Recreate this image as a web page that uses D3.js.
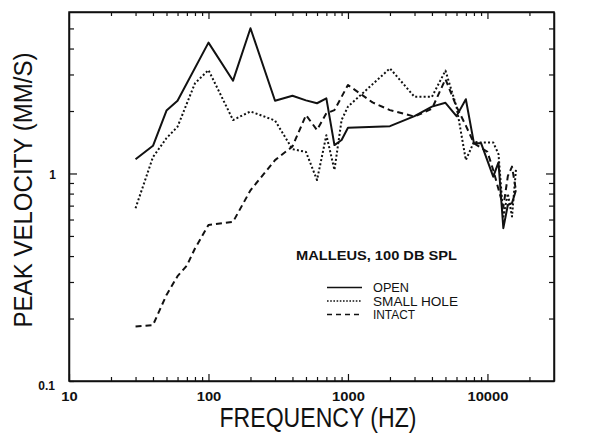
<!DOCTYPE html>
<html>
<head>
<meta charset="utf-8">
<script src="https://cdn.jsdelivr.net/npm/d3@7"></script>
<style>
  body { margin: 0; background: #fff; }
  text { font-family: "Liberation Sans", Arial, sans-serif; fill: #111; }
</style>
</head>
<body>
<div class="graph-pane"></div>
<script>
// values (frequency in Hz, peak velocity in mm/s)
var freqOpen = [30, 40, 50, 60, 100, 150, 200, 300, 400, 500, 600, 700, 800, 900, 1000, 2000, 3000, 4000, 5000, 6000, 7000, 8000, 9000, 11000, 12000, 13000, 14000, 15000, 16000];
var velOpen  = [1.17, 1.36, 2.01, 2.24, 4.27, 2.80, 5.01, 2.24, 2.37, 2.25, 2.18, 2.30, 1.37, 1.45, 1.66, 1.69, 1.89, 2.10, 2.19, 1.89, 2.28, 1.40, 1.40, 0.965, 1.13, 0.545, 0.705, 0.72, 0.83];

var freqHole = [30, 40, 50, 60, 80, 100, 150, 200, 300, 400, 500, 600, 700, 800, 900, 1000, 2000, 3000, 4000, 5000, 6000, 7000, 8000, 9000, 11000, 12000, 13000, 14000, 15000, 16000];
var velHole  = [0.68, 1.20, 1.48, 1.68, 2.72, 3.15, 1.81, 1.99, 1.80, 1.31, 1.27, 0.93, 1.53, 1.04, 1.81, 2.10, 3.21, 2.34, 2.34, 3.13, 2.10, 1.16, 1.42, 1.41, 1.41, 1.24, 0.62, 0.80, 0.62, 1.04];

var freqIntact = [30, 40, 50, 60, 70, 80, 100, 150, 200, 300, 400, 500, 600, 700, 800, 1000, 1500, 2000, 3000, 4000, 5000, 6000, 7000, 8000, 10000, 11000, 13000, 14000, 15000, 16000];
var velIntact  = [0.183, 0.186, 0.26, 0.32, 0.36, 0.435, 0.565, 0.585, 0.83, 1.16, 1.35, 1.91, 1.62, 1.95, 2.02, 2.67, 2.2, 2.02, 1.88, 2.05, 2.85, 2.1, 1.7, 1.40, 1.27, 1.04, 0.69, 0.97, 1.08, 0.83];

var xTicks = [20, 30, 40, 50, 60, 70, 80, 90, 100, 200, 300, 400, 500, 600, 700, 800, 900, 1000,
              2000, 3000, 4000, 5000, 6000, 7000, 8000, 9000, 10000, 20000];
var yTicks = [0.2, 0.3, 0.4, 0.5, 0.6, 0.7, 0.8, 0.9, 1, 2, 3, 4, 5];
var xLabels = [10, 100, 1000, 10000];
var yLabels = [0.1, 1];

var seriesNames = ["OPEN", "SMALL HOLE", "INTACT"];
var annotation = "MALLEUS, 100 DB SPL";

function zip(fs, vs) {
  return fs.map((f, i) => { return {f: f, v: vs[i]} });
}
var series = [
  {name: "OPEN", data: zip(freqOpen, velOpen), dash: null, legendDash: null},
  {name: "SMALL HOLE", data: zip(freqHole, velHole), dash: "2,2.2", legendDash: "1.6,1.6"},
  {name: "INTACT", data: zip(freqIntact, velIntact), dash: "6,4", legendDash: "5,4"}
];

var W = 600, H = 441;
var plotL = 69, plotR = 554, plotT = 12, plotB = 381;

var x = d3.scaleLog().domain([10, 30000]).range([plotL, plotR]);
var y = d3.scaleLog().domain([0.1, 6]).range([plotB, plotT]);

var svg = d3.select('.graph-pane')
  .append('svg')
  .attr('width', W)
  .attr('height', H);

var isDecade = (d) => Math.abs(Math.log10(d) - Math.round(Math.log10(d))) < 1e-9;

// bottom axis, ticks pointing inward
var gx = svg.append('g')
  .attr('transform', 'translate(0,' + plotB + ')')
  .call(d3.axisBottom(x).tickValues(xTicks.concat([10])).tickSize(-4).tickSizeOuter(0)
    .tickFormat((d) => xLabels.indexOf(d) >= 0 ? String(d) : ""));
gx.selectAll('.tick').filter((d) => isDecade(d)).select('line').attr('y2', -7);
gx.selectAll('.tick text')
  .attr('y', 11)
  .attr('font-size', 12)
  .attr('font-weight', 'bold')
  .attr('font-family', '"Liberation Sans", Arial, sans-serif')
  .each(function(d) {
    var s = String(d);
    if (xLabels.indexOf(d) >= 0) {
      d3.select(this).attr('textLength', s.length * 8.2).attr('lengthAdjust', 'spacingAndGlyphs');
    }
  });

// top axis
svg.append('g')
  .attr('transform', 'translate(0,' + plotT + ')')
  .call(d3.axisTop(x).tickValues(xTicks).tickSize(-4).tickSizeOuter(0).tickFormat(""))
  .selectAll('.tick').filter((d) => isDecade(d)).select('line').attr('y2', 7);

// left axis
var gy = svg.append('g')
  .attr('transform', 'translate(' + plotL + ',0)')
  .call(d3.axisLeft(y).tickValues(yTicks.concat([0.1])).tickSize(-5).tickSizeOuter(0)
    .tickFormat((d) => yLabels.indexOf(d) >= 0 ? String(d) : ""));
gy.selectAll('.tick').filter((d) => d === 1).select('line').attr('x2', 8);
gy.selectAll('.tick text')
  .attr('font-size', 12)
  .attr('font-weight', 'bold')
  .attr('font-family', '"Liberation Sans", Arial, sans-serif')
  .attr('x', (d) => d === 1 ? -13 : -14)
  .attr('dy', (d) => d === 1 ? '0.45em' : '0.7em');

// right axis
svg.append('g')
  .attr('transform', 'translate(' + plotR + ',0)')
  .call(d3.axisRight(y).tickValues(yTicks).tickSize(-5).tickSizeOuter(0).tickFormat(""))
  .selectAll('.tick').filter((d) => d === 1).select('line').attr('x2', -8);

svg.selectAll('.domain').attr('stroke', '#111').attr('stroke-width', 1.5);
svg.selectAll('.tick line').attr('stroke', '#111').attr('stroke-width', 1.2);

// frame
svg.append('rect')
  .attr('x', plotL).attr('y', plotT)
  .attr('width', plotR - plotL).attr('height', plotB - plotT)
  .attr('fill', 'none').attr('stroke', '#111').attr('stroke-width', 1.5);

// curves
var line = d3.line()
  .x((d) => { return x(d.f) })
  .y((d) => { return y(d.v) });

series.forEach((s) => {
  svg.append('path')
    .datum(s.data)
    .attr('fill', 'none')
    .attr('stroke', '#111')
    .attr('stroke-width', 2)
    .attr('stroke-linejoin', 'round')
    .attr('stroke-dasharray', s.dash)
    .attr('d', line);
});

// annotation + legend
svg.append('text')
  .attr('x', 296).attr('y', 259.5)
  .attr('font-size', 12.5).attr('font-weight', 'bold')
  .attr('textLength', 161).attr('lengthAdjust', 'spacingAndGlyphs')
  .text(annotation);

var legendY = [287.5, 301, 314.5];
var legendLen = [36, 85, 42];
series.forEach((s, i) => {
  svg.append('line')
    .attr('x1', 327).attr('x2', 362)
    .attr('y1', legendY[i]).attr('y2', legendY[i])
    .attr('stroke', '#111').attr('stroke-width', 1.3)
    .attr('stroke-dasharray', s.legendDash);
  svg.append('text')
    .attr('x', 373).attr('y', legendY[i] + 4.6)
    .attr('font-size', 12.5)
    .attr('textLength', legendLen[i]).attr('lengthAdjust', 'spacingAndGlyphs')
    .text(seriesNames[i]);
});

// axis titles
svg.append('text')
  .attr('x', 318).attr('y', 427)
  .attr('text-anchor', 'middle')
  .attr('font-size', 27)
  .attr('textLength', 197).attr('lengthAdjust', 'spacingAndGlyphs')
  .text('FREQUENCY (HZ)');

svg.append('text')
  .attr('transform', 'translate(32,190) rotate(-90)')
  .attr('text-anchor', 'middle')
  .attr('font-size', 26)
  .attr('textLength', 275).attr('lengthAdjust', 'spacingAndGlyphs')
  .text('PEAK VELOCITY (MM/S)');
</script>
</body>
</html>
